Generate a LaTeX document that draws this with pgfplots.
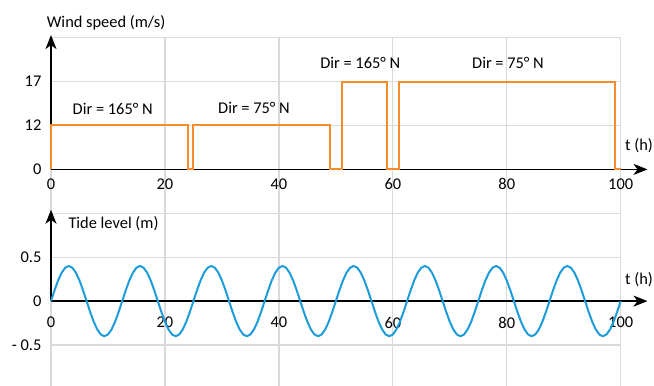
\documentclass[border=0pt]{standalone}
\usepackage{fontspec}
\setmainfont{Carlito}
\usepackage{pgfplots}
\pgfplotsset{compat=1.18}
\usetikzlibrary{arrows.meta}
\definecolor{windorange}{RGB}{247,139,45}
\definecolor{tideblue}{RGB}{30,156,218}
\definecolor{gridgray}{RGB}{218,218,218}
\tikzset{axarrow/.style={black, line width=1.6bp, -{Stealth[length=14bp,width=11bp,inset=4bp]}}}
\begin{document}
\fontsize{16.4bp}{19.7bp}\selectfont
\begin{tikzpicture}[x=1bp,y=1bp]
\pgfplotsset{
  myax/.style={
    scale only axis, width=569.7bp, height=175.6bp,
    xmin=0, xmax=100,
    axis lines=left, axis line style={draw=none},
    major tick length=0pt,
    grid=major, grid style={gridgray, line width=1.3bp},
    xtick={0,20,40,60,80,100}, xticklabels={0,20,40,60,80,100},
    yticklabel style={xshift=-4bp},
    clip=false,
  },
}
% ---------- wind speed ----------
\begin{axis}[myax, at={(51bp,171.7bp)}, anchor=south west,
  ymin=-12, ymax=22,
  y coord trafo/.code={\pgfmathparse{#1/12+0.1166667*max(#1-12,0)}},
  y coord inv trafo/.code={\pgfmathparse{12*#1-7*max(#1-1,0)}},
  ytick={-12,0,12,17,22}, yticklabels={,0,12,17,},
  xticklabel style={anchor=center, yshift=29.3bp},
]
\draw[axarrow] (axis cs:0,0) -- (axis cs:104.7,0);
\draw[axarrow] (axis cs:0,0) -- (axis cs:0,22.3);
\addplot[windorange, line width=2bp, line join=miter] coordinates {
(0,0)(0,12)(24,12)(24,0)(25,0)(25,12)(49,12)(49,0)(51,0)(51,17)(59,17)(59,0)(61,0)(61,17)(99,17)(99,0)(100,0)};
\end{axis}
% ---------- tide level ----------
\begin{axis}[myax, at={(51bp,-3.9bp)}, anchor=south west,
  ymin=-1, ymax=1,
  ytick={-1,-0.5,0,0.5,1}, yticklabels={,- 0.5,0,0.5,},
  xticklabel style={anchor=center, yshift=66.3bp},
]
\draw[axarrow] (axis cs:0,0) -- (axis cs:104.7,0);
\draw[axarrow] (axis cs:0,0) -- (axis cs:0,1.04);
\addplot[tideblue, line width=2bp, line join=round] coordinates {
(0,0)(0.625,0.1236)(1.25,0.2351)(1.875,0.3236)(2.5,0.3804)(3.125,0.4)(3.75,0.3804)(4.375,0.3236)(5,0.2351)(5.625,0.1236)
(6.25,0)(6.875,-0.1236)(7.5,-0.2351)(8.125,-0.3236)(8.75,-0.3804)(9.375,-0.4)(10,-0.3804)(10.625,-0.3236)(11.25,-0.2351)(11.875,-0.1236)
(12.5,0)(13.125,0.1236)(13.75,0.2351)(14.375,0.3236)(15,0.3804)(15.625,0.4)(16.25,0.3804)(16.875,0.3236)(17.5,0.2351)(18.125,0.1236)
(18.75,0)(19.375,-0.1236)(20,-0.2351)(20.625,-0.3236)(21.25,-0.3804)(21.875,-0.4)(22.5,-0.3804)(23.125,-0.3236)(23.75,-0.2351)(24.375,-0.1236)
(25,0)(25.625,0.1236)(26.25,0.2351)(26.875,0.3236)(27.5,0.3804)(28.125,0.4)(28.75,0.3804)(29.375,0.3236)(30,0.2351)(30.625,0.1236)
(31.25,0)(31.875,-0.1236)(32.5,-0.2351)(33.125,-0.3236)(33.75,-0.3804)(34.375,-0.4)(35,-0.3804)(35.625,-0.3236)(36.25,-0.2351)(36.875,-0.1236)
(37.5,0)(38.125,0.1236)(38.75,0.2351)(39.375,0.3236)(40,0.3804)(40.625,0.4)(41.25,0.3804)(41.875,0.3236)(42.5,0.2351)(43.125,0.1236)
(43.75,0)(44.375,-0.1236)(45,-0.2351)(45.625,-0.3236)(46.25,-0.3804)(46.875,-0.4)(47.5,-0.3804)(48.125,-0.3236)(48.75,-0.2351)(49.375,-0.1236)
(50,0)(50.625,0.1236)(51.25,0.2351)(51.875,0.3236)(52.5,0.3804)(53.125,0.4)(53.75,0.3804)(54.375,0.3236)(55,0.2351)(55.625,0.1236)
(56.25,0)(56.875,-0.1236)(57.5,-0.2351)(58.125,-0.3236)(58.75,-0.3804)(59.375,-0.4)(60,-0.3804)(60.625,-0.3236)(61.25,-0.2351)(61.875,-0.1236)
(62.5,0)(63.125,0.1236)(63.75,0.2351)(64.375,0.3236)(65,0.3804)(65.625,0.4)(66.25,0.3804)(66.875,0.3236)(67.5,0.2351)(68.125,0.1236)
(68.75,0)(69.375,-0.1236)(70,-0.2351)(70.625,-0.3236)(71.25,-0.3804)(71.875,-0.4)(72.5,-0.3804)(73.125,-0.3236)(73.75,-0.2351)(74.375,-0.1236)
(75,0)(75.625,0.1236)(76.25,0.2351)(76.875,0.3236)(77.5,0.3804)(78.125,0.4)(78.75,0.3804)(79.375,0.3236)(80,0.2351)(80.625,0.1236)
(81.25,0)(81.875,-0.1236)(82.5,-0.2351)(83.125,-0.3236)(83.75,-0.3804)(84.375,-0.4)(85,-0.3804)(85.625,-0.3236)(86.25,-0.2351)(86.875,-0.1236)
(87.5,0)(88.125,0.1236)(88.75,0.2351)(89.375,0.3236)(90,0.3804)(90.625,0.4)(91.25,0.3804)(91.875,0.3236)(92.5,0.2351)(93.125,0.1236)
(93.75,0)(94.375,-0.1236)(95,-0.2351)(95.625,-0.3236)(96.25,-0.3804)(96.875,-0.4)(97.5,-0.3804)(98.125,-0.3236)(98.75,-0.2351)(99.375,-0.1236)
(100,0)};
\end{axis}
% ---------- texts ----------
\node[anchor=west, inner sep=0pt] at (46.7,362) {Wind speed (m/s)};
\node[anchor=west, inner sep=0pt] at (68.3,161.7) {Tide level (m)};
\node[anchor=west, inner sep=0pt] at (625,239) {t (h)};
\node[anchor=west, inner sep=0pt] at (625,105) {t (h)};
\node at (112.7,276) {Dir = 165° N};
\node at (254,277.3) {Dir = 75° N};
\node at (360.3,321.7) {Dir = 165° N};
\node at (508,321.7) {Dir = 75° N};
\pgfresetboundingbox
\useasboundingbox (0,0) rectangle (654,385);
\end{tikzpicture}
\end{document}
